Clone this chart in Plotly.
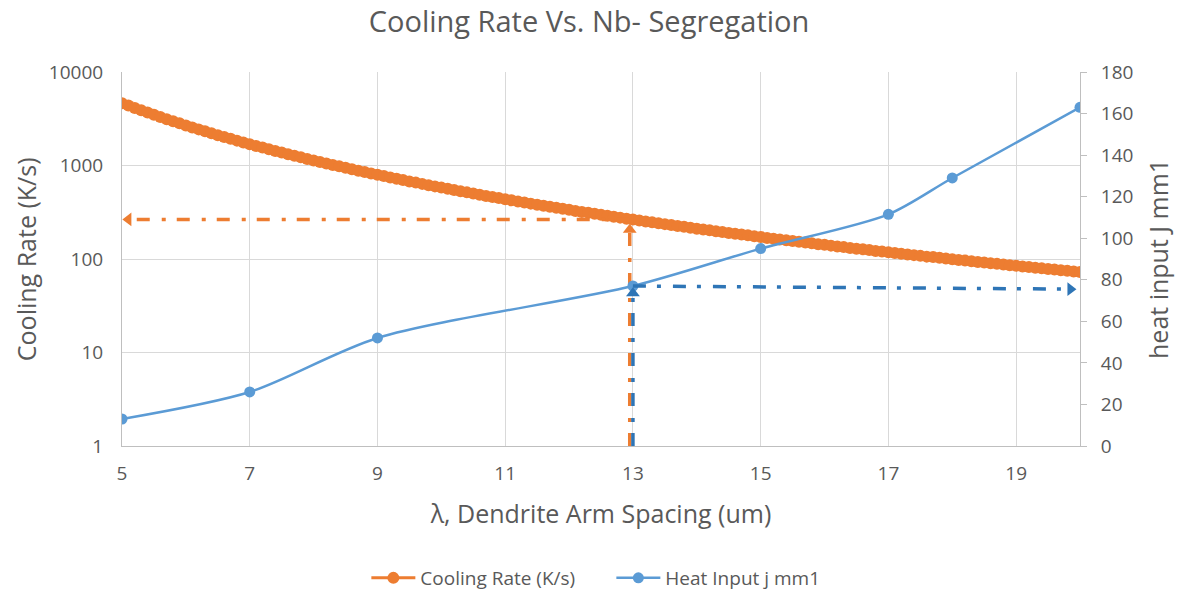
import plotly.graph_objects as go

# Dendrite arm spacing (um) for the cooling-rate curve, step 0.1 from 5 to 20
spacing = [round(5 + 0.1 * i, 1) for i in range(151)]

cooling_rate = [
    4640, 4372, 4125, 3896, 3683, 3486, 3303, 3132, 2973, 2824,
    2685, 2555, 2434, 2320, 2213, 2112, 2017, 1928, 1845, 1766,
    1691, 1621, 1554, 1491, 1431, 1375, 1321, 1270, 1222, 1176,
    1133, 1091, 1052, 1014, 979, 944, 912, 881, 851, 823,
    796, 770, 745, 721, 698, 676, 656, 636, 616, 598,
    580, 563, 547, 531, 516, 501, 487, 473, 460, 448,
    436, 424, 413, 402, 391, 381, 372, 362, 353, 344,
    336, 327, 319, 312, 304, 297, 290, 283, 277, 270,
    264, 258, 252, 247, 241, 236, 231, 226, 221, 216,
    211, 207, 203, 198, 194, 190, 186, 183, 179, 175,
    172, 168, 165, 162, 159, 156, 153, 150, 147, 144,
    142, 139, 136, 134, 131, 129, 127, 125, 122, 120,
    118, 116, 114, 112, 110, 108, 106, 105, 103, 101,
    99.5, 97.8, 96.2, 94.6, 93.1, 91.6, 90.1, 88.7, 87.3, 85.9,
    84.6, 83.2, 81.9, 80.7, 79.4, 78.2, 77.0, 75.9, 74.7, 73.6,
    72.5,
]

# Heat input (J/mm) against dendrite arm spacing
heat_x = [5, 7, 9, 13, 15, 17, 18, 20]
heat_input = [13, 26, 52, 77, 95, 111.5, 129, 163]

# Reading guides at spacing = 13 um
guide_x = 12.95
guide_rate = 265
guide_heat_x = 13.0
guide_heat = [77, 75.5]

ORANGE = "#ED7D31"
BLUE = "#5B9BD5"
DARK_BLUE = "#2E75B6"
GREY = "#595959"
FONT = "Open Sans"
GUIDE_DASH = "13px,11px,4px,12px"

fig = go.Figure()

fig.add_trace(go.Scatter(
    x=spacing, y=cooling_rate, name="Cooling Rate (K/s)",
    mode="lines+markers", line=dict(color=ORANGE, width=3),
    marker=dict(color=ORANGE, size=12), yaxis="y",
))

fig.add_trace(go.Scatter(
    x=heat_x, y=heat_input, name="Heat Input j mm1",
    mode="lines+markers", line=dict(color=BLUE, width=2.5, shape="spline", smoothing=0.8),
    marker=dict(color=BLUE, size=11), yaxis="y2",
))

# Orange guide: vertical up to the curve, then across to the left axis
fig.add_trace(go.Scatter(
    x=[guide_x, guide_x], y=[1, 245], mode="lines", showlegend=False, hoverinfo="skip",
    line=dict(color=ORANGE, width=3.5, dash=GUIDE_DASH), yaxis="y",
))
fig.add_trace(go.Scatter(
    x=[guide_x], y=[205], mode="markers", showlegend=False, hoverinfo="skip",
    marker=dict(symbol="triangle-up", size=12, color=ORANGE), yaxis="y",
))
fig.add_trace(go.Scatter(
    x=[guide_x, 5.1], y=[guide_rate, guide_rate], mode="lines", showlegend=False, hoverinfo="skip",
    line=dict(color=ORANGE, width=3.5, dash=GUIDE_DASH), yaxis="y",
))
fig.add_trace(go.Scatter(
    x=[5.1], y=[guide_rate], mode="markers", showlegend=False, hoverinfo="skip",
    marker=dict(symbol="triangle-left", size=12, color=ORANGE), yaxis="y",
))

# Blue guide: vertical up to the heat-input curve, then across to the right axis
fig.add_trace(go.Scatter(
    x=[guide_heat_x, guide_heat_x], y=[0, 74], mode="lines", showlegend=False, hoverinfo="skip",
    line=dict(color=DARK_BLUE, width=3.5, dash=GUIDE_DASH), yaxis="y2",
))
fig.add_trace(go.Scatter(
    x=[guide_heat_x], y=[73.5], mode="markers", showlegend=False, hoverinfo="skip",
    marker=dict(symbol="triangle-up", size=12, color=DARK_BLUE), yaxis="y2",
))
fig.add_trace(go.Scatter(
    x=[guide_heat_x, 19.85], y=guide_heat, mode="lines", showlegend=False, hoverinfo="skip",
    line=dict(color=DARK_BLUE, width=3.5, dash=GUIDE_DASH), yaxis="y2",
))
fig.add_trace(go.Scatter(
    x=[19.85], y=[guide_heat[1]], mode="markers", showlegend=False, hoverinfo="skip",
    marker=dict(symbol="triangle-right", size=12, color=DARK_BLUE), yaxis="y2",
))

# Vertical axis titles placed beside the plot area
fig.add_annotation(text="Cooling Rate (K/s)", xref="paper", yref="paper",
                   x=-0.1, y=0.5, xanchor="center", yanchor="middle",
                   textangle=-90, showarrow=False, font=dict(size=25, color=GREY))
fig.add_annotation(text="heat input J mm1", xref="paper", yref="paper",
                   x=1.0814, y=0.5, xanchor="center", yanchor="middle",
                   textangle=-90, showarrow=False, font=dict(size=25, color=GREY))

fig.update_layout(
    width=1178, height=592,
    paper_bgcolor="white", plot_bgcolor="white",
    margin=dict(l=122, r=98, t=72, b=146, autoexpand=False),
    font=dict(family=FONT, color=GREY, size=19),
    title=dict(text="Cooling Rate Vs. Nb- Segregation", x=0.5, xanchor="center",
               y=0.963, yanchor="middle", font=dict(size=29, color=GREY)),
    showlegend=True,
    legend=dict(orientation="h", xref="container", x=0.311, xanchor="left",
                y=-0.353, yanchor="middle", entrywidth=186,
                font=dict(size=19, color=GREY), itemwidth=44),
    xaxis=dict(
        range=[5, 20], tick0=5, dtick=2, showgrid=True, gridcolor="#D9D9D9",
        showline=True, linecolor="#BFBFBF", zeroline=False, ticks="",
        tickfont=dict(size=19, color=GREY), ticklabelstandoff=10, automargin=False,
        title=dict(text="λ, Dendrite Arm Spacing (um)", font=dict(size=25, color=GREY), standoff=20),
    ),
    yaxis=dict(
        type="log", range=[0, 4], dtick=1, tickformat="d", showgrid=True, gridcolor="#D9D9D9",
        showline=True, linecolor="#BFBFBF", zeroline=False, ticks="",
        tickfont=dict(size=19, color=GREY), ticklabelstandoff=14, automargin=False,
    ),
    yaxis2=dict(
        overlaying="y", side="right", range=[0, 180], dtick=20, showgrid=False,
        showline=True, linecolor="#BFBFBF", zeroline=False, ticks="outside",
        ticklen=6, tickcolor="#BFBFBF", ticklabelstandoff=10, automargin=False,
        tickfont=dict(size=19, color=GREY),
    ),
)

fig.write_html("out.html")
